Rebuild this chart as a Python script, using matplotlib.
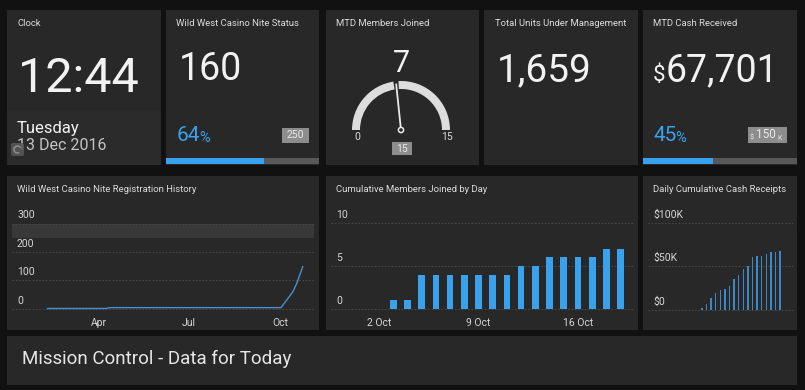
import matplotlib
matplotlib.use('Agg')
import matplotlib.pyplot as plt
import matplotlib.dates as mdates
from matplotlib.patches import Rectangle, Wedge, Circle, FancyBboxPatch, Arc
import numpy as np

plt.rcParams['font.family'] = ['Roboto', 'DejaVu Sans']

# data
clock_time = '12:44'
clock_day = 'Tuesday'
clock_date = '13 Dec 2016'
casino_count = 160
casino_target = 250
members_mtd = 7
members_max = 15
units_total = 1659
cash_mtd = 67701
cash_target = 150000

reg_dates = ['2016-02-09', '2016-04-08', '2016-04-12', '2016-10-02',
             '2016-10-14', '2016-10-18', '2016-10-24']
reg_values = [0, 0, 3, 3, 59, 89, 148]
reg_ticks = ['2016-04-01', '2016-07-01', '2016-10-01']
reg_tick_labels = ['Apr', 'Jul', 'Oct']
reg_yticks = [0, 100, 200, 300]
reg_band = (250, 300)

member_days = [3, 4, 5, 6, 7, 8, 9, 10, 11, 12, 13, 14, 15, 16, 17, 18, 19]
member_values = [1, 1, 4, 4, 4, 4, 4, 4, 4, 5, 5, 6, 6, 6, 6, 7, 7]
member_ticks = [2, 9, 16]
member_tick_labels = ['2 Oct', '9 Oct', '16 Oct']
member_yticks = [0, 5, 10]

cash_days = [3, 4, 5, 6, 7, 8, 9, 10, 11, 12, 13, 14, 15, 16, 17, 18, 19, 20]
cash_values = [2000, 6500, 13000, 18600, 22500, 23500, 27000, 35000, 40000,
               47000, 50000, 60500, 62000, 62000, 64000, 67000, 67000, 67701]
cash_yticks = [0, 50000, 100000]
cash_ytick_labels = ['$0', '$50K', '$100K']

# colours
BG = '#111111'
PANEL = '#282828'
BLUE = '#38a2ee'
TITLE = '#dcdcdc'
WHITE = '#f2f2f2'
GRID = '#474747'

W, H = 805, 390
fig = plt.figure(figsize=(W / 100, H / 100), dpi=100)
fig.patch.set_facecolor(BG)


def add_ax(x0, y0, x1, y1, z=2):
    a = fig.add_axes([x0 / W, 1 - y1 / H, (x1 - x0) / W, (y1 - y0) / H])
    a.set_zorder(z)
    return a


def lim_from(pa, va, pb, vb, lo, hi):
    k = (vb - va) / (pb - pa)
    return va + (lo - pa) * k, va + (hi - pa) * k


bg = add_ax(0, 0, W, H, z=0)
bg.set_xlim(0, W)
bg.set_ylim(H, 0)
bg.axis('off')

panels = [(7, 10, 161, 165), (166, 10, 319, 165), (326, 10, 479, 165),
          (484, 10, 638, 165), (643, 10, 797, 165),
          (7, 176, 319, 330), (326, 176, 638, 330), (643, 176, 797, 330),
          (7, 336, 797, 385)]
for x0, y0, x1, y1 in panels:
    bg.add_patch(Rectangle((x0, y0), x1 - x0, y1 - y0, color=PANEL, lw=0))
# lower part of the clock tile
bg.add_patch(Rectangle((7, 111), 154, 54, color='#2b2b2b', lw=0))

titles = [(17, 'Clock'), (176, 'Wild West Casino Nite Status'), (336, 'MTD Members Joined'),
          (495, 'Total Units Under Management'), (653, 'MTD Cash Received')]
for x, t in titles:
    bg.text(x, 23, t, color=TITLE, fontsize=6.8, va='center', ha='left')
for x, t in [(17, 'Wild West Casino Nite Registration History'),
             (336, 'Cumulative Members Joined by Day'),
             (653, 'Daily Cumulative Cash Receipts')]:
    bg.text(x, 190, t, color=TITLE, fontsize=6.8, va='center', ha='left')

# clock
bg.text(18, 92, clock_time, color=WHITE, fontsize=35, va='baseline')
bg.text(17, 133, clock_day, color=WHITE, fontsize=12, va='baseline')
bg.text(17, 150.5, clock_date, color='#c4c4c4', fontsize=11.5, va='baseline')
bg.add_patch(FancyBboxPatch((11, 143), 13, 13, boxstyle='round,pad=0,rounding_size=2',
                            fc='#595959', ec='none', alpha=0.85, zorder=3))
bg.add_patch(Arc((17.5, 149.5), 7, 7, theta1=60, theta2=330, color='#9a9a9a', lw=0.9, zorder=4))


def pct_text(x, y, value, total):
    t = bg.text(x, y, f'{round(100 * value / total)}', color=BLUE, fontsize=15, va='baseline')
    bg.annotate('%', xy=(1, 0), xycoords=t, xytext=(-1.5, 0), textcoords='offset pixels',
                color=BLUE, fontsize=10.5, va='bottom', ha='left')


def badge(x0, y0, x1, y1):
    bg.add_patch(Rectangle((x0, y0), x1 - x0, y1 - y0, color='#8d8d8d', lw=0))


def progress(x0, x1, value, total):
    a = add_ax(x0, 158, x1, 164)
    a.barh(0, value, height=1, color=BLUE)
    a.set_xlim(0, total)
    a.set_ylim(-0.5, 0.5)
    a.axis('off')
    a.add_patch(Rectangle((0, -0.5), total, 1, color='#585858', zorder=0))


# casino status
bg.text(179, 80, f'{casino_count}', color=WHITE, fontsize=27, va='baseline')
pct_text(177, 141, casino_count, casino_target)
badge(282, 128, 309, 143)
bg.text(295.5, 135.5, f'{casino_target}', color='#e8e8e8', fontsize=7.5, ha='center', va='center')
progress(166, 319, casino_count, casino_target)

# members gauge
bg.text(401, 72, f'{members_mtd}', color=WHITE, fontsize=22, ha='center', va='baseline')
g = add_ax(341, 75, 461, 140)
g.set_xlim(-60, 60)
g.set_ylim(-10, 55)
g.axis('off')
ang = 180 * (1 - members_mtd / members_max)
g.add_patch(Wedge((0, 0), 49, ang + 3, 180, width=8, color='#dddddd', lw=0))
g.add_patch(Wedge((0, 0), 49, 0, ang - 3, width=8, color='#dddddd', lw=0))
g.plot([0, 46 * np.cos(np.radians(ang))], [0, 46 * np.sin(np.radians(ang))],
       color='#e8e8e8', lw=1.3, solid_capstyle='round')
g.add_patch(Circle((0, 0), 2.6, fc=PANEL, ec='#e8e8e8', lw=1.1, zorder=3))
bg.text(357, 137, '0', color='#dcdcdc', fontsize=7.5, ha='center', va='center')
bg.text(447, 137, f'{members_max}', color='#dcdcdc', fontsize=7.5, ha='center', va='center')
badge(392, 142, 412, 155)
bg.text(402, 148.5, f'{members_max}', color='#e8e8e8', fontsize=7.5, ha='center', va='center')

# units
bg.text(497, 81, f'{units_total:,}', color=WHITE, fontsize=28, va='baseline')

# cash
bg.text(653, 81, '$', color=WHITE, fontsize=16, va='baseline')
bg.text(666, 81, f'{cash_mtd:,}', color=WHITE, fontsize=27, va='baseline')
pct_text(653, 141, cash_mtd, cash_target)
badge(748, 127, 787, 143)
bg.text(752, 138, '$', color='#e8e8e8', fontsize=5, ha='center', va='center')
bg.text(765.5, 135, f'{cash_target // 1000}', color='#e8e8e8', fontsize=8.5, ha='center', va='center')
bg.text(779.5, 138, 'K', color='#e8e8e8', fontsize=5, ha='center', va='center')
progress(643, 797, cash_mtd, cash_target)

# banner
bg.text(22, 364, 'Mission Control - Data for Today', color='#e6e6e6', fontsize=13.5,
        va='baseline')


def chart_style(a, yticks, ylabels, label_dx):
    a.set_facecolor('none')
    for s in a.spines.values():
        s.set_visible(False)
    a.set_yticks(yticks)
    a.tick_params(axis='y', left=False, labelleft=False)
    a.tick_params(axis='x', bottom=False, colors='#d6d6d6', labelsize=7.5, pad=1)
    a.grid(axis='y', color=GRID, lw=0.8, linestyle=(0, (1.5, 1.5)))
    a.grid(axis='x', visible=False)
    a.set_axisbelow(True)
    for v, lab in zip(yticks, ylabels):
        a.annotate(lab, xy=(0, v), xycoords=('axes fraction', 'data'), xytext=(label_dx, 5),
                   textcoords='offset pixels', color='#d6d6d6', fontsize=7.5,
                   va='baseline', ha='left')


# registration history
ax1 = add_ax(12, 205, 314, 312)
d = mdates.date2num(np.array(reg_dates, dtype='datetime64[D]'))
tk = mdates.date2num(np.array(reg_ticks, dtype='datetime64[D]'))
ax1.set_xlim(*lim_from(99, tk[0], 280, tk[2], 12, 314))
ax1.set_ylim(*lim_from(308.5, 0, 223.5, 300, 312, 205))
ax1.axhspan(*reg_band, color='#383838', lw=0, zorder=0)
ax1.plot(d, reg_values, color='#4a90cc', lw=1.0)
ax1.set_xticks(tk)
ax1.set_xticklabels(reg_tick_labels)
chart_style(ax1, reg_yticks, [str(v) for v in reg_yticks], 5)

# members by day
ax2 = add_ax(331, 205, 633, 312)
ax2.set_xlim(*lim_from(379, member_ticks[0], 578, member_ticks[2], 331, 633))
ax2.set_ylim(*lim_from(309, 0, 223, 10, 312, 205))
ax2.bar(member_days, member_values, width=0.47, color=BLUE)
ax2.set_xticks(member_ticks)
ax2.set_xticklabels(member_tick_labels)
chart_style(ax2, member_yticks, [str(v) for v in member_yticks], 5)

# cash receipts
ax3 = add_ax(648, 205, 793, 312)
ax3.set_xlim(*lim_from(702, cash_days[0], 780, cash_days[-1], 648, 793))
ax3.set_ylim(*lim_from(309.5, 0, 223, 100000, 312, 205))
ax3.bar(cash_days, cash_values, width=0.3, color='#3f86c4')
ax3.set_xticks([])
chart_style(ax3, cash_yticks, cash_ytick_labels, 5)

fig.savefig('out.png', dpi=100, facecolor=BG)
